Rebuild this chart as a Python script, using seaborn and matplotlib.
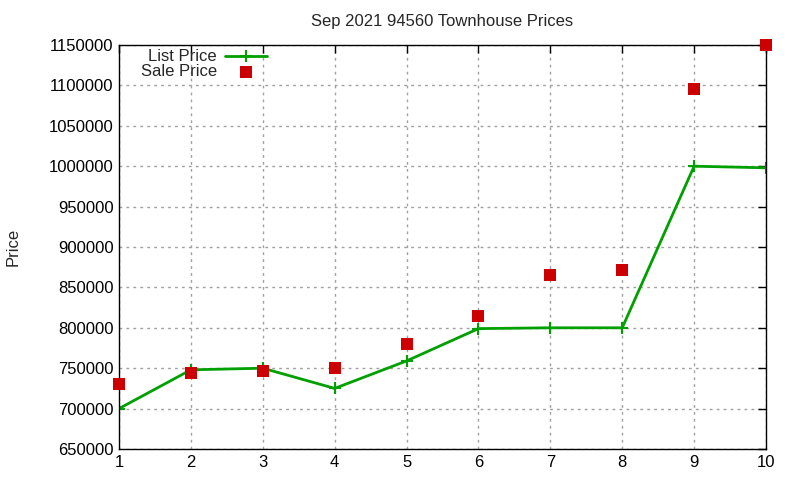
import numpy as np
import pandas as pd
import seaborn as sns
import matplotlib
matplotlib.use("Agg")
import matplotlib.pyplot as plt

# values
sale_index = [1, 2, 3, 4, 5, 6, 7, 8, 9, 10]
list_price = [700000, 748000, 750000, 725000, 759000, 799000, 800000, 800000, 1000000, 998000]
sale_price = [730000, 744000, 747000, 750000, 780000, 815000, 865000, 871000, 1095000, 1150000]
y_ticks = list(range(650000, 1150001, 50000))

df = pd.DataFrame({"n": sale_index, "list": list_price, "sale": sale_price})

sns.set_style("white")
plt.rcParams["font.family"] = ["Liberation Sans", "DejaVu Sans"]

fig = plt.figure(figsize=(8, 4.8), dpi=100)
ax = fig.add_axes([119 / 800, 1 - 449 / 480, (766 - 119) / 800, (449 - 45) / 480])

sns.lineplot(data=df, x="n", y="list", ax=ax, color="#00a000", linewidth=2,
             marker="+", markersize=9, markeredgewidth=1.5, markeredgecolor="#00a000",
             label="List Price")
sns.scatterplot(data=df, x="n", y="sale", ax=ax, color="#cc0000", marker="s",
                s=64, linewidth=0, label="Sale Price", zorder=5, clip_on=False)

ax.set_xlim(1, 10)
ax.set_ylim(650000, 1150000)
ax.set_xticks(sale_index)
ax.set_yticks(y_ticks)
ax.ticklabel_format(style="plain", axis="y")
ax.grid(True, linestyle=(0, (2, 3)), color="#a0a0a0", linewidth=1)
for s in ax.spines.values():
    s.set_color("black")
    s.set_linewidth(1)
ax.tick_params(direction="in", length=6, width=1, top=True, right=True,
               labelsize=12, pad=4, colors="black")
ax.set_xlabel("")
ax.set_ylabel("Price", fontsize=12, labelpad=20)
ax.set_title("Sep 2021 94560 Townhouse Prices", fontsize=12, pad=14)

leg = ax.legend(loc="upper left", bbox_to_anchor=(0.018, 1.014), markerfirst=False,
                frameon=False, fontsize=12, handlelength=2.5, handletextpad=0.5,
                labelspacing=0.0, borderaxespad=0.2)
for t in leg.get_texts():
    t.set_ha("right")

fig.savefig("out.png", dpi=100)
